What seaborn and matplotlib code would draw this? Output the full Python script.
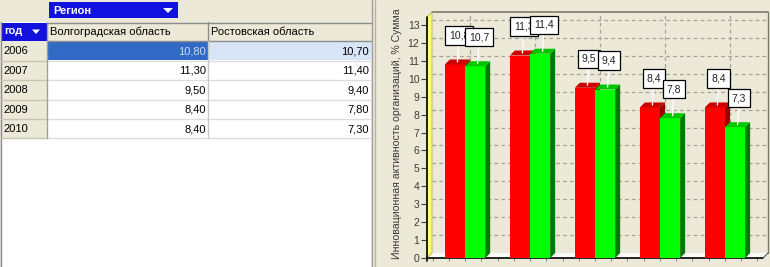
import numpy as np
import pandas as pd
import matplotlib
matplotlib.use("Agg")
import matplotlib.pyplot as plt
import seaborn as sns
from matplotlib.patches import Rectangle, Polygon

# ---------------- data ----------------
years = ["2006", "2007", "2008", "2009", "2010"]
regions = ["Волгоградская область", "Ростовская область"]
volgograd = [10.8, 11.3, 9.5, 8.4, 8.4]
rostov = [10.7, 11.4, 9.4, 7.8, 7.3]
y_ticks = list(range(0, 14))
row_field = "год"
col_field = "Регион"
y_label = "Инновационная активность организаций, % Сумма"
bar_colors = ["#FF0000", "#00FF00"]
top_colors = ["#CC0000", "#00C400"]
side_colors = ["#9A0000", "#007A00"]

df = pd.DataFrame({
    row_field: years * 2,
    col_field: [regions[0]] * len(years) + [regions[1]] * len(years),
    "value": volgograd + rostov,
})
table = df.pivot(index=row_field, columns=col_field, values="value").loc[years, regions]

sns.set_theme(style="white")
plt.rcParams["font.family"] = ["Liberation Sans", "DejaVu Sans"]

W, H = 770, 267
BEIGE = "#ECE9D8"
fig = plt.figure(figsize=(W / 100, H / 100), dpi=100, facecolor=BEIGE)

# ---------------- left panel: pivot table (pixel coords) ----------------
bg = fig.add_axes([0, 0, 1, 1])
bg.set_xlim(0, W)
bg.set_ylim(H, 0)
bg.axis("off")
bg.patch.set_visible(False)

BLUE = "#1212E0"
bg.add_patch(Rectangle((1, 22), 370, H - 22, fc="white", ec="none"))
bg.plot([0.5, 0.5], [22, H], color="#8C8C8C", lw=1)
bg.plot([371.5, 371.5], [0, H], color="#A0A0A0", lw=1)
bg.plot([375, 375], [0, H], color="#B8B5A8", lw=1)

# field buttons
bg.add_patch(Rectangle((49, 2), 129, 16, fc=BLUE, ec="none"))
bg.text(53, 10.5, col_field, color="white", fontsize=8, fontweight="bold", va="center", ha="left")
bg.add_patch(Polygon([(163, 8), (173, 8), (168, 13)], fc="white", ec="none"))
bg.add_patch(Rectangle((2, 23), 45, 17.5, fc=BLUE, ec="none"))
bg.text(4, 31.5, row_field, color="white", fontsize=8, fontweight="bold", va="center", ha="left")
bg.add_patch(Polygon([(32, 29.5), (40, 29.5), (36, 34)], fc="white", ec="none"))

col_x = [47, 208, 371]
row_h = 19.4
row_top = 41.3

# header row
bg.add_patch(Rectangle((47, 22), 324, row_top - 22, fc=BEIGE, ec="none"))
bg.plot([47, 371], [22.5, 22.5], color="#8C8C8C", lw=1)
bg.plot([47, 371], [row_top, row_top], color="#8C8C8C", lw=1)
bg.plot([208, 208], [22, row_top], color="#8C8C8C", lw=1)
for j, reg in enumerate(table.columns):
    bg.text(col_x[j] + 3, 32, reg, fontsize=8, color="black", va="center", ha="left")

# body rows
for i, yr in enumerate(table.index):
    y0 = row_top + i * row_h
    bg.add_patch(Rectangle((1, y0), 46, row_h, fc=BEIGE, ec="none"))
    bg.text(3, y0 + row_h / 2 + 0.5, yr, fontsize=8, color="black", va="center", ha="left")
    for j, reg in enumerate(table.columns):
        fc = "white"
        tc = "black"
        if i == 0 and j == 0:
            fc, tc = "#316AC5", "#C9DBF7"
        elif i == 0:
            fc = "#D8E5F8"
        bg.add_patch(Rectangle((col_x[j] + 0.5, y0 + 0.5), col_x[j + 1] - col_x[j] - 1, row_h - 1,
                               fc=fc, ec="none"))
        txt = f"{table.loc[yr, reg]:.2f}".replace(".", ",")
        bg.text(col_x[j + 1] - 2, y0 + row_h / 2 + 0.5, txt, fontsize=8, color=tc,
                va="center", ha="right")
    bg.plot([1, 47], [y0 + row_h, y0 + row_h], color="#C8C4B4", lw=1)
    bg.plot([47, 371], [y0 + row_h, y0 + row_h], color="#DCDCDC", lw=1)
bg.plot([47, 47], [22, row_top + 5 * row_h], color="#A0A0A0", lw=1)
bg.plot([208, 208], [row_top, row_top + 5 * row_h], color="#C8C8C8", lw=1)

# ---------------- right panel: 3D-like bar chart ----------------
L, R, B, T = 427, 763, 258, 17
PX_Y = 17.92
ytop = (B - T) / PX_Y
ax = fig.add_axes([L / W, (H - B) / H, (R - L) / W, (B - T) / H])
sns.barplot(data=df, x=row_field, y="value", hue=col_field, palette=bar_colors,
            saturation=1, width=0.62, linewidth=0, legend=False, ax=ax, zorder=3)
bars = [p for p in ax.patches if isinstance(p, Rectangle)]
bars.sort(key=lambda p: (0 if p.get_facecolor()[1] < 0.5 else 1, p.get_x()))
ax.set_xlim(-0.585, 4.585)
ax.set_ylim(0, ytop)
ax.patch.set_visible(False)
for s in ax.spines.values():
    s.set_visible(False)
ax.set_xlabel("")
ax.set_ylabel("")

# depth offset (5 px right, 5 px up) in data units
o = ax.transData.transform((0, 0))
dx, dy = ax.transData.inverted().transform(o + np.array([5.0, 5.0]))
x0, x1 = ax.get_xlim()

# floor
ax.add_patch(Polygon([(x0, 0), (x1, 0), (x1 + dx, dy), (x0 + dx, dy)], closed=True,
                     fc="#FAFAF6", ec="none", zorder=1, clip_on=False))
# back wall frame
ax.plot([x0 + dx, x1 + dx], [ytop + dy, ytop + dy], color="#7A7A6C", lw=1.2, zorder=1, clip_on=False)
ax.plot([x1 + dx, x1 + dx], [dy, ytop + dy], color="#7A7A6C", lw=1, zorder=1, clip_on=False)
# grid on back wall
for v in y_ticks[1:]:
    ax.plot([x0 + dx, x1 + dx], [v + dy, v + dy], color="#A3A399", lw=0.9,
            dashes=(3.0, 2.5), zorder=1.5, clip_on=False)
for i in range(len(years)):
    ax.plot([i + dx, i + dx], [dy, ytop + dy], color="#A3A399", lw=0.9,
            dashes=(3.0, 2.5), zorder=1.5, clip_on=False)
# left yellow wall
ax.add_patch(Polygon([(x0, 0), (x0, ytop), (x0 + dx, ytop + dy), (x0 + dx, dy)], closed=True,
                     fc="#FFFF73", ec="#B0B040", lw=0.6, zorder=2, clip_on=False))
ax.plot([x0, x0], [-0.15, ytop], color="black", lw=1.2, zorder=2.5, clip_on=False)
ax.plot([x0, x1], [0, 0], color="black", lw=1.2, zorder=2.5, clip_on=False)
ax.plot([x1, x1 + dx], [0, dy], color="#555555", lw=0.8, zorder=2.5, clip_on=False)

# 3D faces + labels
n = len(years)
for k, p in enumerate(bars):
    lvl = 0 if k < n else 1
    zb = 3 + 2 * lvl
    p.set_zorder(zb)
    x, w, h = p.get_x(), p.get_width(), p.get_height()
    ax.add_patch(Polygon([(x + w, 0), (x + w, h), (x + w + dx, h + dy), (x + w + dx, dy)],
                         closed=True, fc=side_colors[lvl], ec="none", zorder=zb + 0.5))
    ax.add_patch(Polygon([(x, h), (x + w, h), (x + w + dx, h + dy), (x + dx, h + dy)],
                         closed=True, fc=top_colors[lvl], ec="none", zorder=zb + 0.5))
order = [i + lvl * n for i in range(n) for lvl in (0, 1)]
for rank, k in enumerate(order):
    p = bars[k]
    x, w, h = p.get_x(), p.get_width(), p.get_height()
    ax.annotate(f"{h:.1f}".replace(".", ","), xy=(x + w / 2 + dx / 2, h + dy / 2),
                xytext=(1.5, 26.5), textcoords="offset pixels", ha="center", va="center",
                fontsize=7.5, color="#202020", zorder=10 + rank, annotation_clip=False,
                bbox=dict(boxstyle="square,pad=0.4", fc="white", ec="black", lw=0.9),
                arrowprops=dict(arrowstyle="-", color="white", lw=1, shrinkA=0, shrinkB=0))

ax.set_yticks(y_ticks)
ax.set_yticklabels([str(v) for v in y_ticks])
ax.set_xticks(np.arange(-0.5, 4.51, 0.25))
ax.set_xticklabels([])
ax.tick_params(axis="y", left=True, length=4, width=0.8, color="#404040",
               labelsize=7.5, labelcolor="#3A3A3A", pad=1.5)
ax.tick_params(axis="x", bottom=True, length=2.5, width=0.6, color="#707070")

fig.text(397 / W, 1 - 8 / H, y_label, rotation=90, ha="center", va="top",
         fontsize=7.6, color="#3A3A3A")

fig.savefig("out.png", dpi=100, facecolor=fig.get_facecolor())
